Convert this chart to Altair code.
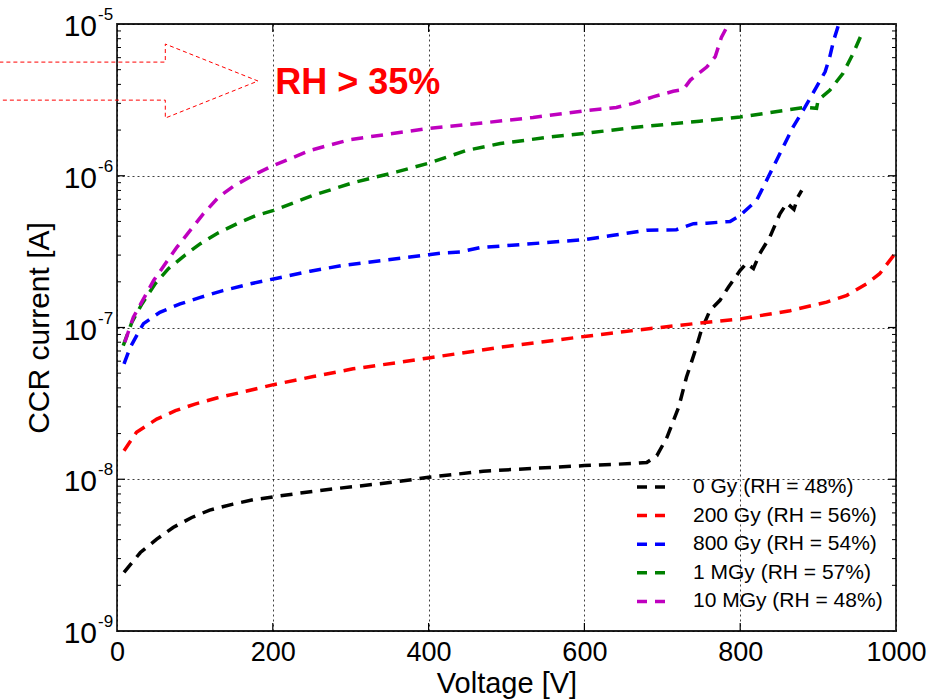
import altair as alt
import pandas as pd

# CCR leakage current versus bias voltage, one curve per irradiation dose
labels = ["0 Gy (RH = 48%)", "200 Gy (RH = 56%)", "800 Gy (RH = 54%)",
          "1 MGy (RH = 57%)", "10 MGy (RH = 48%)"]
colors = ["#000000", "#ff0000", "#0000ff", "#008000", "#bf00bf"]

v_0gy = [9, 30, 51, 72, 96, 119, 149, 175, 201, 231, 282, 333, 368, 400, 470, 534,
         600, 663, 680, 693, 706, 721, 731, 744, 750, 761, 774, 785, 800, 808, 817,
         825, 838, 851, 860, 869, 874, 879]
i_0gy = [2.43e-9, 3.29e-9, 4.03e-9, 4.81e-9, 5.6e-9, 6.26e-9, 6.86e-9, 7.33e-9,
         7.66e-9, 8.05e-9, 8.69e-9, 9.29e-9, 9.77e-9, 1.03e-8, 1.13e-8, 1.18e-8,
         1.23e-8, 1.27e-8, 1.29e-8, 1.43e-8, 1.89e-8, 2.98e-8, 4.7e-8, 7.5e-8,
         9.55e-8, 1.29e-7, 1.51e-7, 1.85e-7, 2.38e-7, 2.65e-7, 2.45e-7, 3.06e-7,
         3.94e-7, 5.62e-7, 6.6e-7, 6.0e-7, 7.24e-7, 8.0e-7]

v_200gy = [9, 25, 51, 75, 100, 128, 154, 201, 252, 303, 363, 400, 492, 600, 663,
           748, 800, 864, 911, 937, 962, 979, 997, 1000]
i_200gy = [1.54e-8, 2.04e-8, 2.49e-8, 2.83e-8, 3.13e-8, 3.43e-8, 3.68e-8, 4.2e-8,
           4.75e-8, 5.34e-8, 5.9e-8, 6.3e-8, 7.41e-8, 8.73e-8, 9.55e-8, 1.07e-7,
           1.14e-7, 1.29e-7, 1.47e-7, 1.63e-7, 1.94e-7, 2.26e-7, 2.99e-7, 3.1e-7]

v_800gy = [9, 17, 30, 34, 55, 81, 107, 136, 171, 201, 248, 291, 342, 376, 400, 419,
           441, 466, 521, 600, 637, 680, 718, 740, 757, 787, 800, 821, 836, 851, 868,
           883, 898, 909, 915, 920, 926]
i_800gy = [5.75e-8, 7.4e-8, 9.8e-8, 1.06e-7, 1.26e-7, 1.43e-7, 1.58e-7, 1.75e-7,
           1.94e-7, 2.09e-7, 2.35e-7, 2.57e-7, 2.77e-7, 2.91e-7, 3.02e-7, 3.1e-7,
           3.15e-7, 3.36e-7, 3.53e-7, 3.79e-7, 4.05e-7, 4.37e-7, 4.41e-7, 4.83e-7,
           4.87e-7, 5.0e-7, 5.48e-7, 6.88e-7, 9.8e-7, 1.4e-6, 2.1e-6, 2.82e-6,
           3.85e-6, 4.84e-6, 6.08e-6, 7.8e-6, 9.8e-6]

v_1mgy = [8, 19, 32, 49, 66, 87, 107, 128, 154, 179, 201, 252, 303, 359, 400, 449,
          492, 556, 600, 663, 748, 800, 883, 898, 900, 915, 932, 945, 958]
i_1mgy = [7.6e-8, 1.08e-7, 1.43e-7, 1.94e-7, 2.44e-7, 2.99e-7, 3.57e-7, 4.15e-7,
          4.83e-7, 5.48e-7, 5.91e-7, 7.43e-7, 9.0e-7, 1.06e-6, 1.21e-6, 1.47e-6,
          1.63e-6, 1.80e-6, 1.90e-6, 2.08e-6, 2.29e-6, 2.44e-6, 2.82e-6, 2.78e-6,
          3.15e-6, 3.66e-6, 4.73e-6, 6.4e-6, 9.1e-6]

v_10mgy = [10, 21, 47, 77, 111, 130, 149, 172, 196, 248, 299, 376, 400, 470, 534, 600,
           641, 663, 688, 714, 727, 736, 757, 768, 776, 785]
i_10mgy = [8.0e-8, 1.17e-7, 2.04e-7, 3.39e-7, 5.62e-7, 7.2e-7, 8.5e-7, 9.9e-7, 1.14e-6,
           1.47e-6, 1.73e-6, 1.97e-6, 2.05e-6, 2.23e-6, 2.42e-6, 2.68e-6, 2.82e-6,
           3.0e-6, 3.31e-6, 3.6e-6, 3.7e-6, 4.27e-6, 5.2e-6, 6.1e-6, 8.2e-6, 1.0e-5]

# Axis ticks
x_major = [0, 200, 400, 600, 800, 1000]
y_decades = [1e-9, 1e-8, 1e-7, 1e-6, 1e-5]
y_exponents = ["-9", "-8", "-7", "-6", "-5"]
y_minor = [m * 10.0 ** e for e in range(-9, -5) for m in range(2, 10)]

# Outlined arrow pointing at the humidity note
arrow_v = [-160, 62, 62, 181, 62, 62, -160]
arrow_i = [5.61e-6, 5.61e-6, 7.38e-6, 4.21e-6, 2.4e-6, 3.15e-6, 3.15e-6]
note_text = "RH > 35%"
note_v, note_i = 203, 4.08e-6

rows = []
for name, vs, cs in zip(labels,
                        [v_0gy, v_200gy, v_800gy, v_1mgy, v_10mgy],
                        [i_0gy, i_200gy, i_800gy, i_1mgy, i_10mgy]):
    for k, (v, c) in enumerate(zip(vs, cs)):
        rows.append({"series": name, "voltage": v, "current": c, "order": k})
curves = pd.DataFrame(rows)

W, H = 779, 607
FONT = "Liberation Sans, Arial, Helvetica, sans-serif"

x_scale = alt.Scale(domain=[0, 1000], nice=False, zero=False)
y_scale = alt.Scale(type="log", domain=[1e-9, 1e-5], nice=False)

grid_style = dict(grid=True, gridDash=[2, 3], gridColor="#000000", gridOpacity=0.75,
                  gridWidth=1, ticks=False, domain=False)

lines = alt.Chart(curves).mark_line(strokeDash=[12, 8], strokeWidth=3.5, clip=True).encode(
    x=alt.X("voltage:Q", scale=x_scale,
            axis=alt.Axis(values=x_major, format="d", labelFontSize=27, labelFont=FONT,
                          labelColor="#000000", labelPadding=8, labelFlush=False,
                          title="Voltage [V]", titleFont=FONT, titleFontSize=29,
                          titleFontWeight="normal", titleColor="#000000", titlePadding=4,
                          **grid_style)),
    y=alt.Y("current:Q", scale=y_scale,
            axis=alt.Axis(values=y_decades, labels=False, title="CCR current [A]",
                          titleFont=FONT, titleFontSize=30, titleFontWeight="normal",
                          titleColor="#000000", titleX=-69, titleBaseline="alphabetic",
                          **grid_style)),
    color=alt.Color("series:N", scale=alt.Scale(domain=labels, range=colors),
                    legend=alt.Legend(title=None, orient="none", legendX=518, legendY=447,
                                      symbolType="stroke", symbolSize=784,
                                      symbolStrokeWidth=3.5, symbolDash=[10, 8],
                                      labelFontSize=21, labelFont=FONT,
                                      labelColor="#000000", labelOffset=26,
                                      rowPadding=2.6, padding=0, labelLimit=400)),
    order="order:Q",
)

tick_color = "#000000"
xt = pd.DataFrame({"voltage": x_major[1:-1]})
yt = pd.DataFrame({"current": y_decades[1:-1]})
ym = pd.DataFrame({"current": y_minor})

ticks = [
    alt.Chart(xt).mark_rule(color=tick_color, strokeWidth=1.2).encode(
        x="voltage:Q", y=alt.value(H), y2=alt.value(H - 8)),
    alt.Chart(xt).mark_rule(color=tick_color, strokeWidth=1.2).encode(
        x="voltage:Q", y=alt.value(0), y2=alt.value(8)),
    alt.Chart(yt).mark_rule(color=tick_color, strokeWidth=1.2).encode(
        y="current:Q", x=alt.value(0), x2=alt.value(8)),
    alt.Chart(yt).mark_rule(color=tick_color, strokeWidth=1.2).encode(
        y="current:Q", x=alt.value(W), x2=alt.value(W - 8)),
    alt.Chart(ym).mark_rule(color=tick_color, strokeWidth=1).encode(
        y="current:Q", x=alt.value(0), x2=alt.value(4)),
    alt.Chart(ym).mark_rule(color=tick_color, strokeWidth=1).encode(
        y="current:Q", x=alt.value(W), x2=alt.value(W - 4)),
]

# Power-of-ten labels on the current axis: base and raised exponent
ylab = pd.DataFrame({"current": y_decades, "exp": y_exponents, "base": ["10"] * 5})
y_base = alt.Chart(ylab).mark_text(align="right", baseline="middle", fontSize=30,
                                   font=FONT, color="#000000", dy=3).encode(
    y="current:Q", x=alt.value(-20), text="base:N")
y_exp = alt.Chart(ylab).mark_text(align="left", baseline="middle", fontSize=17,
                                  font=FONT, color="#000000", dy=-9).encode(
    y="current:Q", x=alt.value(-19), text="exp:N")

arrow_df = pd.DataFrame({"voltage": arrow_v, "current": arrow_i,
                         "order": list(range(len(arrow_v)))})
arrow = alt.Chart(arrow_df).mark_line(color="#ff0000", strokeDash=[4, 3], strokeWidth=1,
                                      clip=False).encode(
    x="voltage:Q", y="current:Q", order="order:Q")

note = alt.Chart(pd.DataFrame({"voltage": [note_v], "current": [note_i],
                               "text": [note_text]})).mark_text(
    align="left", baseline="middle", fontSize=36, fontWeight="bold", font=FONT,
    color="#ff0000").encode(x="voltage:Q", y="current:Q", text="text:N")

chart = alt.layer(lines, *ticks, y_base, y_exp, arrow, note).properties(
    width=W, height=H,
    padding={"left": 117, "top": 24, "right": 45, "bottom": 68},
    autosize=alt.AutoSizeParams(type="none"),
    background="#ffffff",
).configure_view(stroke="#222222", strokeWidth=1.8)

chart.save("out.html", embed_options={"renderer": "svg", "actions": False})
